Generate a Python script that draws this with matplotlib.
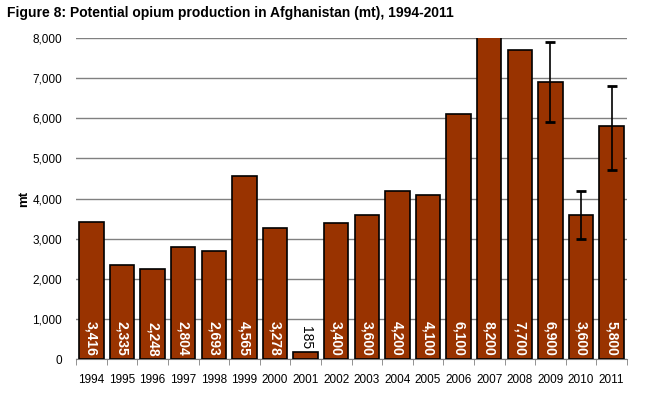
import numpy as np
import matplotlib.pyplot as plt

plt.rcParams['font.family'] = ['Liberation Sans', 'DejaVu Sans']

# data
years = ['1994', '1995', '1996', '1997', '1998', '1999', '2000', '2001', '2002',
         '2003', '2004', '2005', '2006', '2007', '2008', '2009', '2010', '2011']
production = [3416, 2335, 2248, 2804, 2693, 4565, 3278, 185, 3400,
              3600, 4200, 4100, 6100, 8200, 7700, 6900, 3600, 5800]
labels = ['3,416', '2,335', '2,248', '2,804', '2,693', '4,565', '3,278', '185', '3,400',
          '3,600', '4,200', '4,100', '6,100', '8,200', '7,700', '6,900', '3,600', '5,800']
# ranges for the last three years
err_years = ['2009', '2010', '2011']
err_low = [5900, 3000, 4700]
err_high = [7900, 4200, 6800]

fig = plt.figure(figsize=(6.45, 3.93), dpi=100)
ax = fig.add_axes([0.118, 0.0865, 0.854, 0.8165])

x = np.arange(len(years))
ax.bar(x, production, width=0.8, color='#993300', edgecolor='black', linewidth=1.2, zorder=3, clip_on=True)

# error bars
ex = [years.index(y) for y in err_years]
ev = [production[i] for i in ex]
yerr = [np.array(ev) - np.array(err_low), np.array(err_high) - np.array(ev)]
ax.errorbar(ex, ev, yerr=yerr, fmt='none', ecolor='black', elinewidth=1.2,
            capsize=3.5, capthick=2, zorder=4)

# value labels
for i, (v, lab) in enumerate(zip(production, labels)):
    if v < 1000:
        ax.text(i, v + 60, lab, rotation=270, ha='center', va='bottom',
                fontsize=10, color='black', zorder=5)
    else:
        ax.text(i, 70, lab, rotation=270, ha='center', va='bottom',
                fontsize=10, fontweight='bold', color='white', zorder=5)

ax.set_xlim(-0.5, len(years) - 0.5)
ax.set_ylim(0, 8000)
ax.set_yticks(np.arange(0, 8001, 1000))
ax.set_yticklabels(['{:,}'.format(v) for v in range(0, 8001, 1000)], fontsize=8.5)
ax.set_xticks(x)
ax.set_xticklabels(years, fontsize=8.5)
ax.set_xticks(np.arange(-0.5, len(years), 1), minor=True)
ax.tick_params(axis='x', which='major', length=0, pad=11)
ax.tick_params(axis='x', which='minor', length=4, color='#808080')
ax.tick_params(axis='y', length=0, pad=10)
ax.yaxis.grid(True, color='#808080', linewidth=1, zorder=0)

for s in ['top', 'right', 'left']:
    ax.spines[s].set_visible(False)
ax.spines['bottom'].set_color('#808080')

ax.set_ylabel('mt', fontsize=9.5, fontweight='bold', labelpad=2)
fig.text(0.011, 0.985, 'Figure 8: Potential opium production in Afghanistan (mt), 1994-2011',
         fontsize=10, fontweight='bold', ha='left', va='top')

fig.savefig('out.png', dpi=100)
